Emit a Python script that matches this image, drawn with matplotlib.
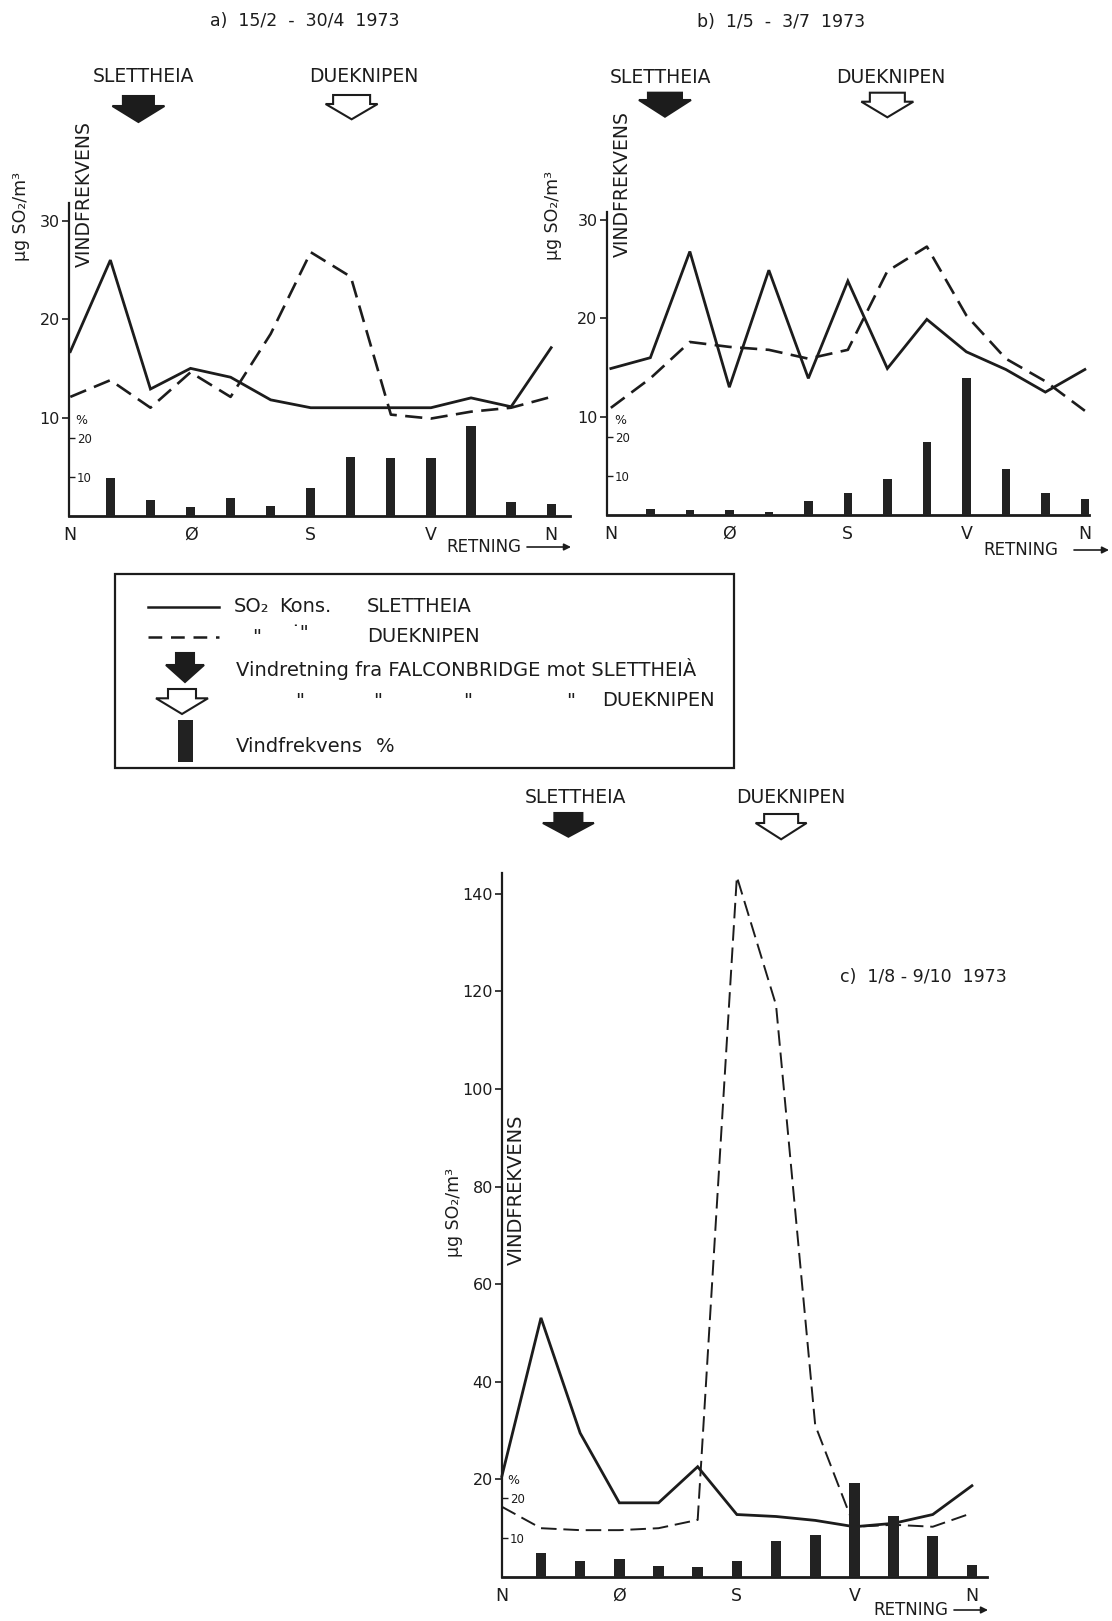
import matplotlib
matplotlib.use('Agg')
import matplotlib.pyplot as plt
from matplotlib.patches import Polygon, Rectangle
from matplotlib.lines import Line2D

W, H = 1112, 1621
plt.rcParams['font.family'] = ['DejaVu Sans']

# ---------------- data ----------------
direction_labels = ['N', 'Ø', 'S', 'V', 'N']
direction_ticks = [0, 3, 6, 9, 12]
line_positions = list(range(13))          # N ... N in 30 degree steps
bar_positions = list(range(1, 13))

a_title = 'a)  15/2  -  30/4  1973'
a_slettheia = [16.7, 26.0, 12.9, 15.0, 14.1, 11.8, 11.0, 11.0, 11.0, 11.0, 12.0, 11.1, 17.1]
a_dueknipen = [12.1, 13.8, 11.0, 14.6, 12.1, 18.5, 26.8, 24.3, 10.3, 9.9, 10.6, 11.0, 12.1]
a_freq = [9.7, 4.1, 2.3, 4.7, 2.6, 7.1, 15.2, 15.0, 14.9, 23.1, 3.7, 3.0]
a_conc_ticks = [10, 20, 30]

b_title = 'b)  1/5  -  3/7  1973'
b_slettheia = [14.9, 16.0, 26.8, 13.0, 24.9, 13.9, 23.8, 14.9, 19.9, 16.6, 14.8, 12.5, 14.8]
b_dueknipen = [10.9, 13.9, 17.6, 17.1, 16.8, 15.9, 16.8, 24.8, 27.3, 20.3, 15.9, 13.6, 10.6]
b_freq = [1.5, 1.3, 1.3, 0.8, 3.6, 5.7, 9.2, 18.6, 35.2, 11.8, 5.7, 4.0]
b_conc_ticks = [10, 20, 30]

c_title = 'c)  1/8 - 9/10  1973'
c_slettheia = [20.6, 53.1, 29.5, 15.2, 15.2, 22.6, 12.8, 12.4, 11.6, 10.3, 11.0, 12.8, 18.7]
c_dueknipen = [14.4, 10.0, 9.6, 9.6, 10.0, 11.7, 143.5, 117.2, 31.1, 10.3, 10.7, 10.3, 13.1]
c_freq = [6.0, 4.1, 4.5, 2.9, 2.6, 4.1, 9.1, 10.6, 23.9, 15.4, 10.5, 3.0]
c_conc_ticks = [20, 40, 60, 80, 100, 120, 140]

freq_ticks = [10, 20]
# wind direction (in the same 30-degree index units) of the two arrows
slettheia_dir = [1.7, 1.37, 1.76]
dueknipen_dir = [7.02, 7.0, 7.16]

INK = '#1c1c1c'

fig = plt.figure(figsize=(W / 100, H / 100), dpi=100)
fig.patch.set_facecolor('white')


def px_axes(l, r, t, b):
    return fig.add_axes([l / W, 1 - b / H, (r - l) / W, (b - t) / H])


panels = [
    dict(l=68.7, r=570, t=203, b=516, xlim=(-0.04, 12.47), ctop=31.8, ptop=80.3,
         sl=a_slettheia, dk=a_dueknipen, fr=a_freq, cticks=a_conc_ticks, barw=0.23,
         dlw=1.9, dash=(6.5, 3.2)),
    dict(l=606.5, r=1088.8, t=211.7, b=515, xlim=(-0.11, 12.1), ctop=30.85, ptop=77.8,
         sl=b_slettheia, dk=b_dueknipen, fr=b_freq, cticks=b_conc_ticks, barw=0.22,
         dlw=1.9, dash=(6.5, 3.2)),
    dict(l=501.8, r=987.2, t=873.3, b=1577, xlim=(0.07, 12.39), ctop=144.2, ptop=178.2,
         sl=c_slettheia, dk=c_dueknipen, fr=c_freq, cticks=c_conc_ticks, barw=0.27,
         dlw=1.4, dash=(8, 3.5)),
]

axes = []
for p in panels:
    ax = px_axes(p['l'], p['r'], p['t'], p['b'])
    ax.set_facecolor('none')
    ax.set_xlim(*p['xlim'])
    ax.set_ylim(0, p['ctop'])
    for s in ('top', 'right'):
        ax.spines[s].set_visible(False)
    ax.spines['left'].set_linewidth(1.6)
    ax.spines['bottom'].set_linewidth(2.0)
    ax.spines['left'].set_color(INK)
    ax.spines['bottom'].set_color(INK)
    ax.set_yticks(p['cticks'])
    ax.set_yticklabels([str(v) for v in p['cticks']])
    ax.tick_params(axis='y', direction='out', length=5, width=1.2, pad=1.5,
                   labelsize=11.5, colors=INK)
    ax.set_xticks(direction_ticks)
    ax.set_xticklabels(direction_labels)
    ax.tick_params(axis='x', length=0, pad=7, labelsize=12.5, colors=INK)

    ax.plot(line_positions, p['sl'], color=INK, lw=2.0, solid_joinstyle='miter',
            clip_on=False, zorder=3)
    ax.plot(line_positions, p['dk'], color=INK, lw=p['dlw'], linestyle=(0, p['dash']),
            clip_on=False, zorder=3)

    ax2 = ax.twinx()
    ax2.set_ylim(0, p['ptop'])
    for s in ax2.spines.values():
        s.set_visible(False)
    ax2.yaxis.tick_left()
    ax2.set_yticks(freq_ticks)
    ax2.set_yticklabels([str(v) for v in freq_ticks])
    ax2.tick_params(axis='y', direction='in', length=4, width=1.0, pad=-6,
                    labelsize=8.5, colors=INK)
    for lab in ax2.get_yticklabels():
        lab.set_horizontalalignment('left')
    ax2.bar(bar_positions, p['fr'], width=p['barw'], color='#222222', zorder=4)
    axes.append(ax)

# ---------------- overlay for annotations ----------------
ov = fig.add_axes([0, 0, 1, 1])
ov.set_xlim(0, W)
ov.set_ylim(H, 0)
ov.axis('off')
ov.set_facecolor('none')


def data_x(i, d):
    p = panels[i]
    ppu = (p['r'] - p['l']) / (p['xlim'][1] - p['xlim'][0])
    return p['l'] + (d - p['xlim'][0]) * ppu


def arrow(cx, top, w, rw, rbot, tip, filled, lw=1.5):
    pts = [(cx - rw / 2, top), (cx + rw / 2, top), (cx + rw / 2, rbot), (cx + w / 2, rbot),
           (cx, tip), (cx - w / 2, rbot), (cx - rw / 2, rbot)]
    ov.add_patch(Polygon(pts, closed=True, facecolor=INK if filled else 'white',
                         edgecolor=INK, lw=lw, joinstyle='miter'))


def txt(x, y, s, size=12.5, ha='center', va='center', rot=0, **kw):
    ov.text(x, y, s, fontsize=size, ha=ha, va=va, rotation=rot, color=INK, **kw)


annot = [
    dict(title=(a_title, 304.5, 21), sl=(143.4, 77), dk=(363.6, 77), vf=(84, 194),
         vfs=13.5, mu=(21, 216), pct=(81, 421), ret=(483.5, 547, 527, 571),
         fa=(96, 106, 122, 52, 31), oa=(95, 104, 119.3, 52, 37)),
    dict(title=(b_title, 781, 22), sl=(660.8, 77.5), dk=(890.6, 77.5), vf=(622, 184),
         vfs=13.5, mu=(553, 215), pct=(620, 421), ret=(1021, 550, 1074, 1109),
         fa=(92.7, 100, 116.7, 52, 34), oa=(92.7, 101.7, 117.3, 52, 35)),
    dict(title=(c_title, 923, 977), sl=(576, 797.5), dk=(790.7, 797.5), vf=(516, 1190),
         vfs=14, mu=(454, 1212), pct=(513, 1480), ret=(911, 1610, 954, 988),
         fa=(813, 823, 836.7, 51, 28), oa=(814, 823, 839.3, 51, 34)),
]

for i, a in enumerate(annot):
    t, tx, ty = a['title']
    txt(tx, ty, t, size=12.5)
    txt(a['sl'][0], a['sl'][1], 'SLETTHEIA', size=13.5)
    txt(a['dk'][0], a['dk'][1], 'DUEKNIPEN', size=13.5)
    txt(a['vf'][0], a['vf'][1], 'VINDFREKVENS', size=a['vfs'], rot=90)
    txt(a['mu'][0], a['mu'][1], 'µg SO₂/m³', size=12.5, rot=90)
    txt(a['pct'][0], a['pct'][1], '%', size=9)
    rx, ry, ax0, ax1 = a['ret']
    txt(rx, ry, 'RETNING', size=12)
    ov.annotate('', xy=(ax1, ry), xytext=(ax0, ry),
                arrowprops=dict(arrowstyle='-|>', lw=1.2, color=INK, mutation_scale=10,
                                shrinkA=0, shrinkB=0))
    top, rb, tip, w, rw = a['fa']
    arrow(data_x(i, slettheia_dir[i]), top, w, rw, rb, tip, True)
    top, rb, tip, w, rw = a['oa']
    arrow(data_x(i, dueknipen_dir[i]), top, w, rw, rb, tip, False)

# ---------------- legend box ----------------
ov.add_patch(Rectangle((115, 574), 619, 194, fill=False, edgecolor=INK, lw=1.6))
ov.add_line(Line2D([148, 219], [607, 607], color=INK, lw=1.8))
ov.add_line(Line2D([148, 219], [637, 637], color=INK, lw=1.8, linestyle=(0, (5.5, 3.5))))
LS = 14
txt(234, 607, 'SO₂', size=LS, ha='left')
txt(279, 607, 'Kons.', size=LS, ha='left')
txt(367, 607, 'SLETTHEIA', size=LS, ha='left')
txt(252, 637, '"', size=LS, ha='left')
txt(290, 634, '˙"', size=LS, ha='left')
txt(367, 637, 'DUEKNIPEN', size=LS, ha='left')
arrow(185, 653, 38, 18, 665, 682, True)
txt(236, 669, 'Vindretning fra FALCONBRIDGE mot SLETTHEIÀ', size=LS, ha='left')
arrow(182, 689, 52, 28, 698.3, 714, False)
for qx in (295, 373, 463, 566):
    txt(qx, 701, '"', size=LS, ha='left')
txt(602, 701, 'DUEKNIPEN', size=LS, ha='left')
ov.add_patch(Rectangle((177.5, 720), 15, 41.7, facecolor='#222222', edgecolor='none'))
txt(236, 746, 'Vindfrekvens', size=LS, ha='left')
txt(376, 746, '%', size=LS, ha='left')

fig.savefig('out.png', dpi=100, facecolor='white')
